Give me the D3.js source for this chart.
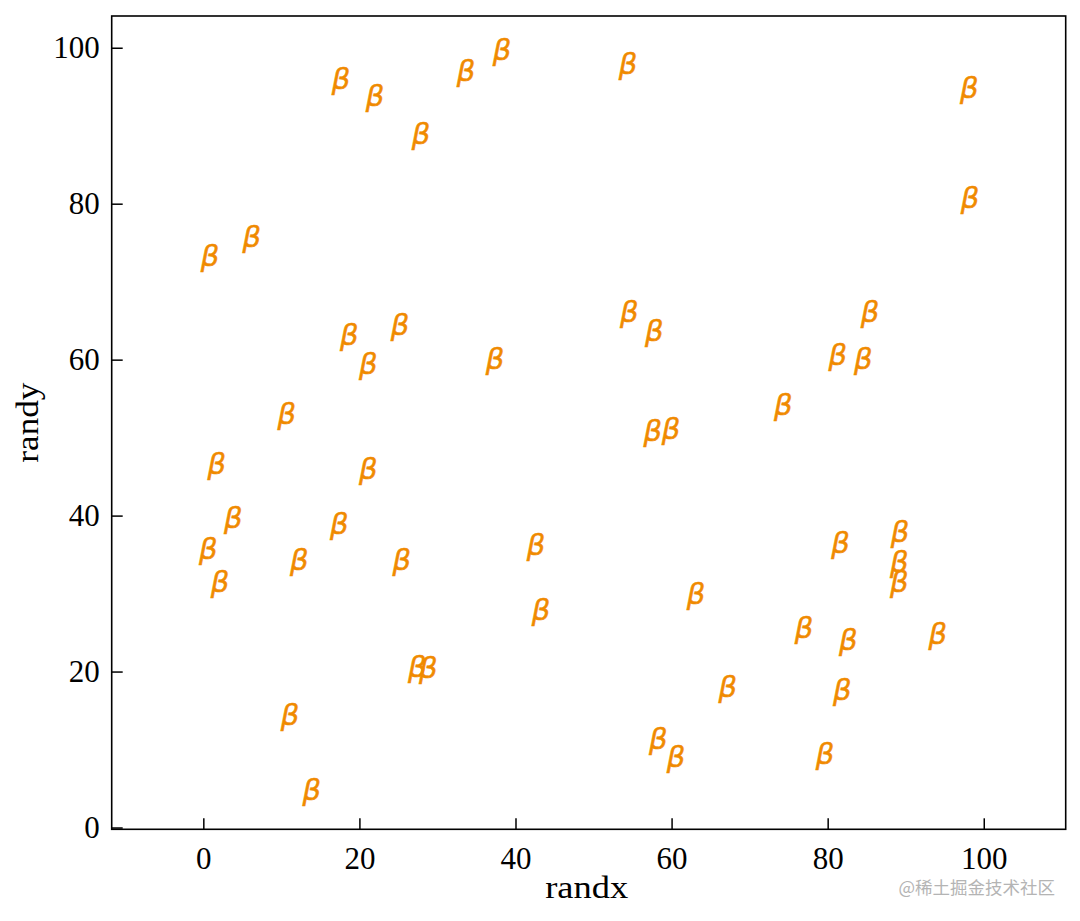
<!DOCTYPE html>
<html>
<head>
<meta charset="utf-8">
<script src="https://cdn.jsdelivr.net/npm/d3@7"></script>
<style>
  html, body { margin: 0; padding: 0; background: #fff; }
  svg { display: block; }
</style>
</head>
<body>
<svg id="chart" width="1080" height="921"></svg>
<script>
const randx = [17.64, 22.0, 33.66, 38.27, 54.42, 27.9, 98.15, 98.25, 0.86, 6.2,
  18.71, 25.2, 21.14, 37.38, 54.59, 57.79, 85.43, 81.29, 84.57, 10.69,
  74.32, 57.59, 59.93, 1.72, 21.14, 3.84, 0.64, 17.43, 2.14, 12.3,
  25.42, 42.63, 43.27, 81.65, 89.27, 89.18, 89.18, 63.13, 76.97, 82.65,
  94.1, 27.42, 28.83, 67.2, 81.88, 11.11, 58.3, 60.57, 79.66, 13.89];
const randy = [95.86, 93.68, 96.88, 99.57, 97.77, 88.8, 94.67, 80.6, 73.16, 75.56,
  63.03, 64.22, 59.31, 59.95, 65.94, 63.45, 65.94, 60.37, 59.95, 52.9,
  54.05, 50.68, 50.88, 46.49, 45.84, 39.52, 35.59, 38.79, 31.32, 34.09,
  34.09, 36.01, 27.67, 36.36, 37.73, 33.88, 31.32, 29.82, 25.42, 23.83,
  24.69, 20.42, 20.29, 17.85, 17.41, 14.3, 11.13, 8.87, 9.3, 4.59];
const xTicks = [0, 20, 40, 60, 80, 100];
const yTicks = [0, 20, 40, 60, 80, 100];
const xLabel = "randx";
const yLabel = "randy";
const markerText = "β";
const watermark = "@稀土掘金技术社区";

const svg = d3.select("#chart");
const pL = 111.7, pR = 1065.7, pT = 16, pB = 829.3;
const x = d3.scaleLinear().domain([-11.74, 110.5]).range([pL, pR]);
const y = d3.scaleLinear().domain([-0.23, 104.07]).range([pB, pT]);
const serif = "'Liberation Serif', 'Times New Roman', serif";

// markers
svg.append("g").selectAll("text").data(d3.range(randx.length)).join("text")
  .attr("x", i => x(randx[i]))
  .attr("y", i => y(randy[i]))
  .attr("dy", "0.3em")
  .attr("text-anchor", "middle")
  .attr("font-family", "'DejaVu Sans', sans-serif")
  .attr("font-style", "italic")
  .attr("font-size", 29)
  .attr("fill", "#f08a00")
  .attr("stroke", "#f08a00")
  .attr("stroke-width", 0.5)
  .text(markerText);

// axes
const xAxis = d3.axisBottom(x).tickValues(xTicks).tickSizeInner(-11).tickSizeOuter(0).tickPadding(14);
const yAxis = d3.axisLeft(y).tickValues(yTicks).tickSizeInner(-11).tickSizeOuter(0).tickPadding(12);
const gx = svg.append("g").attr("transform", `translate(0,${pB})`).call(xAxis);
const gy = svg.append("g").attr("transform", `translate(${pL},0)`).call(yAxis);
[gx, gy].forEach(g => {
  g.select(".domain").remove();
  g.selectAll(".tick line").attr("stroke", "#000").attr("stroke-width", 1.5);
  g.selectAll(".tick text").attr("font-family", serif).attr("font-size", 31).attr("fill", "#000");
});
gx.selectAll(".tick text").attr("dy", "0.82em");

// frame
svg.append("rect").attr("x", pL).attr("y", pT)
  .attr("width", pR - pL).attr("height", pB - pT)
  .attr("fill", "none").attr("stroke", "#000").attr("stroke-width", 1.6);

// axis labels
svg.append("text").attr("x", (pL + pR) / 2 - 2).attr("y", 898)
  .attr("text-anchor", "middle").attr("font-family", serif).attr("font-size", 31)
  .attr("textLength", 83).attr("lengthAdjust", "spacingAndGlyphs")
  .text(xLabel);
svg.append("text").attr("transform", `translate(38,${(pT + pB) / 2}) rotate(-90)`)
  .attr("text-anchor", "middle").attr("font-family", serif).attr("font-size", 31)
  .attr("textLength", 80).attr("lengthAdjust", "spacingAndGlyphs")
  .text(yLabel);

// watermark
svg.append("text").attr("x", 1055).attr("y", 894)
  .attr("text-anchor", "end").attr("font-family", "'Noto Sans CJK SC', sans-serif")
  .attr("font-size", 17.5).attr("fill", "#b4b4b4")
  .text(watermark);
</script>
</body>
</html>
